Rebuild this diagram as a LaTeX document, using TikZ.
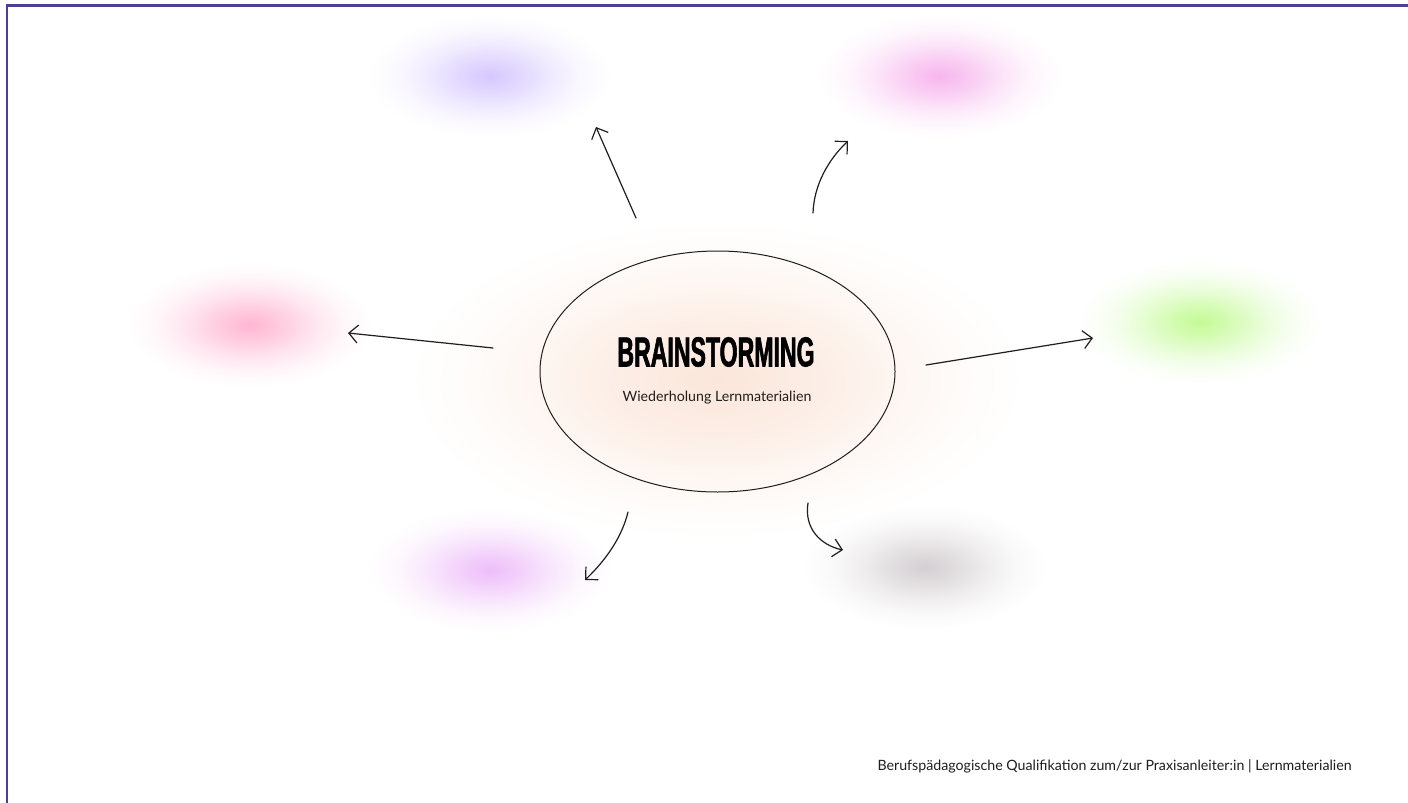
\documentclass[tikz,border=0pt]{standalone}
\usepackage{fontspec}
\setmainfont{Lato}
\newfontfamily\headfont[FakeStretch=0.55,FakeBold=1.4]{Liberation Sans Bold}
\usetikzlibrary{arrows.meta,shapes.geometric}
\definecolor{frameC}{RGB}{74,62,152}
\definecolor{cLav}{RGB}{214,200,255}
\definecolor{cMag}{RGB}{247,182,238}
\definecolor{cPink}{RGB}{255,182,210}
\definecolor{cGreen}{RGB}{196,250,150}
\definecolor{cViol}{RGB}{238,190,250}
\definecolor{cGrey}{RGB}{212,207,210}
\definecolor{cPeach}{RGB}{251,230,218}
\definecolor{inkC}{RGB}{30,30,30}
\newcommand{\blobshading}[2]{\pgfdeclareradialshading{#1}{\pgfpoint{0bp}{0bp}}{color(0bp)=(#2); color(6bp)=(#2!72!white); color(13bp)=(#2!36!white); color(19bp)=(#2!12!white); color(25bp)=(white); color(50bp)=(white)}}
\blobshading{shLav}{cLav}
\blobshading{shMag}{cMag}
\blobshading{shPink}{cPink}
\blobshading{shGreen}{cGreen}
\blobshading{shViol}{cViol}
\blobshading{shGrey}{cGrey}
\pgfdeclareradialshading{shHalo}{\pgfpoint{0bp}{0bp}}{color(0bp)=(cPeach); color(8bp)=(cPeach!70!white); color(15bp)=(cPeach!35!white); color(21bp)=(cPeach!10!white); color(25bp)=(white); color(50bp)=(white)}
\tikzset{
  blob/.style={ellipse, inner sep=0pt, minimum width=122pt, minimum height=62pt, shade, shading=#1, draw=none},
  arr/.style={draw=inkC, line width=0.6pt, line cap=round, -{Straight Barb[length=4.5pt,width=9pt,line width=0.6pt]}},
}
\begin{document}
\begin{tikzpicture}[x=0.5pt,y=-0.5pt]
\useasboundingbox (0,0) rectangle (1408,803);
\fill[white] (0,0) rectangle (1408,803);
% frame
\draw[frameC, line width=1.3pt] (7,803) -- (7,5.5) -- (1408,5.5);
% halo and blobs
\node[blob=shHalo, minimum width=310pt, minimum height=160pt] (halo) at (717,380) {};
\node[blob=shLav] (b1) at (490,76) {};
\node[blob=shMag] (b2) at (940,76) {};
\node[blob=shPink] (b3) at (250,325) {};
\node[blob=shGreen] (b4) at (1200,322) {};
\node[blob=shViol] (b5) at (490,570) {};
\node[blob=shGrey] (b6) at (925,567) {};
% central ellipse
\node[ellipse, draw=inkC, line width=0.5pt, inner sep=0pt, minimum width=177.5pt, minimum height=120.5pt] (c) at (717.5,371.5) {};
\node (title) at (716,352) {\headfont\fontsize{21}{24}\selectfont BRAINSTORMING};
\node (sub) at (717,398) {\fontsize{7.1}{8.5}\selectfont\color{inkC} Wiederholung Lernmaterialien};
\node[anchor=base east, inner sep=0pt] (foot) at (1352,770) {\fontsize{7.1}{8.5}\selectfont\color{inkC} Berufspädagogische Qualifikation zum/zur Praxisanleiter:in | Lernmaterialien};
% arrow endpoints
\coordinate (s1) at (636,218); \coordinate (e1) at (596,127);
\coordinate (s2) at (813,213); \coordinate (e2) at (848,141);
\coordinate (s3) at (493,348); \coordinate (e3) at (348,333);
\coordinate (s4) at (926,365); \coordinate (e4) at (1093,338);
\coordinate (s5) at (628,512); \coordinate (e5) at (585,580);
\coordinate (s6) at (808,503); \coordinate (e6) at (843,550);
\draw[arr] (s1) -- (e1);
\draw[arr] (s2) .. controls (814,185) and (828,160) .. (e2);
\draw[arr] (s3) -- (e3);
\draw[arr] (s4) -- (e4);
\draw[arr] (s5) .. controls (622,537) and (606,560) .. (e5);
\draw[arr] (s6) .. controls (804,528) and (820,545) .. (e6);
\end{tikzpicture}
\end{document}
